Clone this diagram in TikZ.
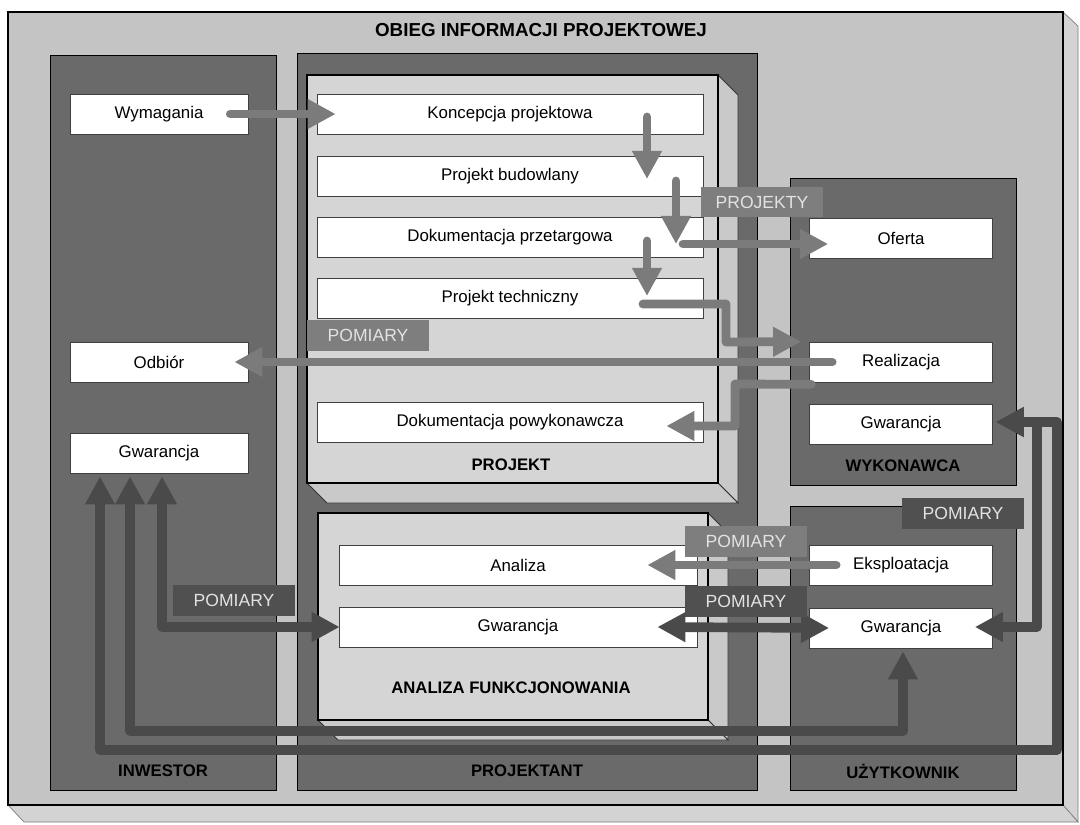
\documentclass[tikz,border=0pt]{standalone}
\usepackage{fontspec}
\setmainfont{Liberation Sans}
\usetikzlibrary{arrows.meta,calc}

\definecolor{framebg}{HTML}{C4C4C4}
\definecolor{framebevel}{HTML}{D3D3D3}
\definecolor{colbg}{HTML}{6A6A6A}
\definecolor{panelbg}{HTML}{D5D5D5}
\definecolor{panelbevel}{HTML}{C9C9C9}
\definecolor{flowmid}{HTML}{7B7B7B}
\definecolor{flowdark}{HTML}{4A4A4A}
\definecolor{tagmid}{HTML}{7E7E7E}
\definecolor{tagdark}{HTML}{505050}
\definecolor{tagtext}{HTML}{E2E2E2}

\tikzset{
  infobox/.style={draw=black!75, line width=0.4pt, fill=white, minimum height=0.8cm,
    inner sep=0pt, font=\fontsize{9.6}{11}\selectfont},
  leftbox/.style={infobox, minimum width=3.56cm},
  rightbox/.style={infobox, minimum width=3.66cm},
  widebox/.style={infobox, minimum width=7.72cm},
  anabox/.style={infobox, minimum width=7.16cm},
  heading/.style={font=\bfseries\fontsize{9.5}{11}\selectfont, inner sep=0pt},
  titletext/.style={font=\bfseries\fontsize{10.7}{12}\selectfont, inner sep=0pt},
  column/.style={fill=colbg, draw=black, line width=0.5pt},
  panel/.style={fill=panelbg, draw=black, line width=0.6pt},
  panelside/.style={fill=panelbevel, draw=black!80, line width=0.5pt},
  tag/.style={minimum width=2.46cm, minimum height=0.62cm, inner sep=0pt,
    text=tagtext, font=\fontsize{10}{12}\selectfont},
  flow/.style={draw=flowmid, line width=5pt, line cap=round, line join=round,
    -{Triangle[length=16pt,width=16pt]}},
  backflow/.style={draw=flowdark, line width=5.5pt, line join=round,
    {Triangle[length=16pt,width=16pt]}-{Triangle[length=16pt,width=16pt]}},
}

\begin{document}
\begin{tikzpicture}[x=0.02cm,y=-0.02cm]
\useasboundingbox (0,0) rectangle (1080,825);

% outer frame with its bevelled edges
\filldraw[fill=framebevel, draw=black!50, line width=0.4pt]
  (1063,12) -- (1078,26) -- (1078,822) -- (1063,805) -- cycle;
\filldraw[fill=framebevel, draw=black!50, line width=0.4pt]
  (8,805) -- (1063,805) -- (1078,822) -- (24,822) -- cycle;
\filldraw[fill=framebg, draw=black, line width=0.6pt] (8,12) rectangle (1063,805);
\node[titletext] (title) at (541,30) {OBIEG INFORMACJI PROJEKTOWEJ};

% participant columns
\filldraw[column] (50,55) rectangle (276,790);
\filldraw[column] (297,53) rectangle (757,790);
\filldraw[column] (790,178) rectangle (1016,485);
\filldraw[column] (790,506) rectangle (1016,790);

% PROJEKT panel
\filldraw[panelside] (718,75) -- (738,95) -- (738,503) -- (718,483) -- cycle;
\filldraw[panelside] (307,483) -- (718,483) -- (738,503) -- (327,503) -- cycle;
\filldraw[panel] (307,75) rectangle (718,483);

% ANALIZA FUNKCJONOWANIA panel
\filldraw[panelside] (708,513) -- (728,533) -- (728,740) -- (708,720) -- cycle;
\filldraw[panelside] (318,720) -- (708,720) -- (728,740) -- (338,740) -- cycle;
\filldraw[panel] (318,513) rectangle (708,720);

% boxes
\node[leftbox] (wym) at (159,114) {Wymagania};
\node[leftbox] (odb) at (159,362) {Odbiór};
\node[leftbox] (gwi) at (159,453) {Gwarancja};
\node[widebox] (kon) at (510,114) {Koncepcja projektowa};
\node[widebox] (bud) at (510,176) {Projekt budowlany};
\node[widebox] (prz) at (510,237) {Dokumentacja przetargowa};
\node[widebox] (tech) at (510,298) {Projekt techniczny};
\node[widebox] (pow) at (510,422) {Dokumentacja powykonawcza};
\node[anabox] (ana) at (518,565) {Analiza};
\node[anabox] (gwa) at (518,627) {Gwarancja};
\node[rightbox] (ofe) at (901,238) {Oferta};
\node[rightbox] (rea) at (901,362) {Realizacja};
\node[rightbox] (gww) at (901,424) {Gwarancja};
\node[rightbox] (eks) at (901,565) {Eksploatacja};
\node[rightbox] (gwu) at (901,628) {Gwarancja};

% headings
\node[heading] (lproj) at (511,465) {PROJEKT};
\node[heading] (lana) at (511,688) {ANALIZA FUNKCJONOWANIA};
\node[heading] (lwyk) at (903,466) {WYKONAWCA};
\node[heading] (linw) at (163,771) {INWESTOR};
\node[heading] (lpro) at (527,771) {PROJEKTANT};
\node[heading] (luzy) at (903,771) {UŻYTKOWNIK};

% design flow
\draw[flow] ($(wym.east)+(-18,0)$) -- ($(kon.west)+(19,0)$);
\draw[flow] ($(kon.center)+(137,3)$) -- ($(bud.center)+(137,3)$);
\draw[flow] ($(bud.center)+(166,5)$) -- ($(prz.center)+(166,7)$);
\draw[flow] ($(prz.center)+(173,7)$) -- ($(ofe.west)+(19,6)$);
\draw[flow] ($(prz.center)+(137,4)$) -- ($(tech.center)+(137,-2)$);
\coordinate (b1) at (726,304);
\coordinate (b2) at (726,342);
\draw[flow] ($(tech.center)+(133,6)$) -- (b1) -- (b2) -- ($(rea.north west)+(-8,0)$);
\draw[flow] ($(rea.west)+(23,0)$) -- ($(odb.east)+(-14,0)$);
\coordinate (c1) at (735,384);
\coordinate (c2) at (735,426);
\draw[flow] ($(rea.south west)+(2,2)$) -- (c1) -- (c2) -- ($(pow.east)+(-37,4)$);
\draw[flow] ($(eks.west)+(27,0)$) -- ($(ana.east)+(-50,0)$);

% guarantee feedback
\draw[backflow] ($(gwa.east)+(-40,0)$) -- ($(gwu.west)+(20,0)$);
\coordinate (d1) at (162,627);
\draw[backflow] ($(gwa.west)+(1,0)$) -- (d1) -- ($(gwi.south)+(3,3)$);
\coordinate (e1) at (130,731);
\coordinate (e2) at (903,731);
\draw[backflow] ($(gwi.south)+(-29,3)$) -- (e1) -- (e2) -- ($(gwu.south)+(2,3)$);
\coordinate (f1) at (100,750);
\coordinate (f2) at (1057,750);
\coordinate (f3) at (1057,422);
\draw[backflow] ($(gwi.south)+(-59,3)$) -- (f1) -- (f2) -- (f3) -- ($(gww.east)+(3,-2)$);
\coordinate (g1) at (1037,422);
\coordinate (g2) at (1037,627);
\draw[backflow] ($(gww.east)+(3,-2)$) -- (g1) -- (g2) -- ($(gwu.east)+(-18,-1)$);

% flow tags
\node[tag, fill=tagmid] (tprojekty) at (762,202) {PROJEKTY};
\node[tag, fill=tagmid] (tpom1) at (368,335) {POMIARY};
\node[tag, fill=tagdark] (tpom2) at (963,513) {POMIARY};
\node[tag, fill=tagmid] (tpom3) at (746,541) {POMIARY};
\node[tag, fill=tagdark] (tpom4) at (746,601) {POMIARY};
\node[tag, fill=tagdark] (tpom5) at (234,600) {POMIARY};
\end{tikzpicture}
\end{document}
